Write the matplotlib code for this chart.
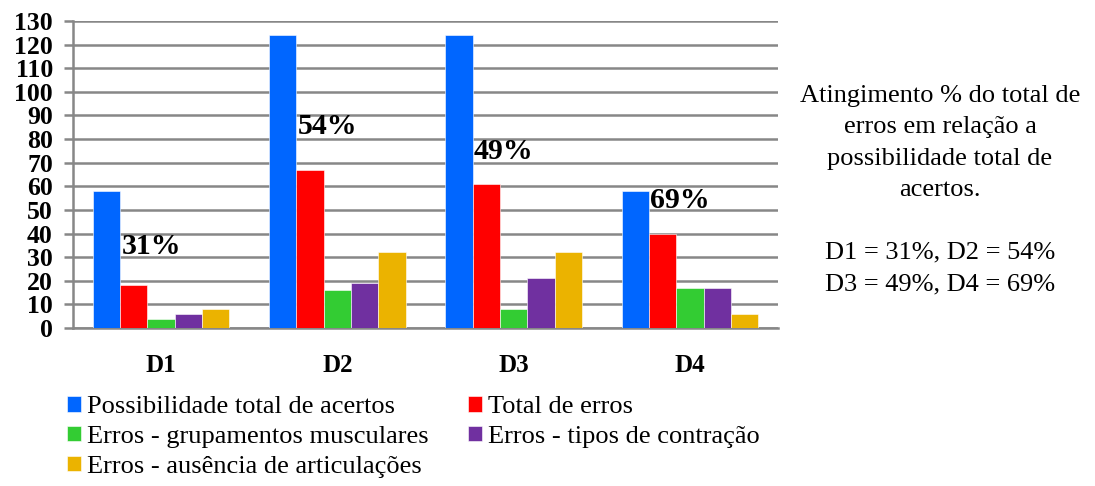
import matplotlib.pyplot as plt
import numpy as np

plt.rcParams['font.family'] = ['Liberation Serif', 'DejaVu Serif']

# Data
categories = ['D1', 'D2', 'D3', 'D4']
possibilidade = [58, 124, 124, 58]
total_erros = [18, 67, 61, 40]
erros_grupamentos = [4, 16, 8, 17]
erros_contracao = [6, 19, 21, 17]
erros_articulacoes = [8, 32, 32, 6]

series_names = ['Possibilidade total de acertos', 'Total de erros',
                'Erros - grupamentos musculares', 'Erros - tipos de contração',
                'Erros - ausência de articulações']
series_colors = ['#0066FF', '#FF0000', '#33CC33', '#7030A0', '#EBB300']

# height (in data units) where each percentage label is centred
pct_label_y = [34.4, 85.3, 74.7, 54.2]

side_text = ('Atingimento % do total de\nerros em relação a\n'
             'possibilidade total de\nacertos.\n\n'
             'D1 = 31%, D2 = 54%\nD3 = 49%, D4 = 69%')

grid_color = '#878787'

fig = plt.figure(figsize=(10.95, 4.86), dpi=100)
ax = fig.add_axes([73 / 1095, 1 - 328 / 486, 705 / 1095, 307 / 486])

x = np.arange(len(categories))
width = 0.155
all_series = [possibilidade, total_erros, erros_grupamentos,
              erros_contracao, erros_articulacoes]
bars = []
for i, (vals, name, col) in enumerate(zip(all_series, series_names, series_colors)):
    b = ax.bar(x + (i - 2) * width, vals, width, color=col, label=name,
               edgecolor='white', linewidth=0.4, zorder=3)
    bars.append(b)

# percentage labels next to the blue bar
for i in range(len(categories)):
    pct = round(total_erros[i] / possibilidade[i] * 100)
    ax.annotate(f'{pct}%', xy=(x[i] - 1.5 * width, pct_label_y[i]),
                xytext=(1, 0), textcoords='offset points',
                ha='left', va='center', fontsize=21.5, fontweight='bold', zorder=4)

ax.set_xlim(-0.5, 3.5)
ax.set_ylim(0, 130)
ax.set_yticks(np.arange(0, 131, 10))
ax.set_xticks(x)
ax.set_xticklabels(categories, fontsize=18, fontweight='bold')
for lbl in ax.get_yticklabels():
    lbl.set_fontweight('bold')
    lbl.set_fontsize(18.5)

ax.yaxis.grid(True, color=grid_color, linewidth=1.8, zorder=0)
ax.set_axisbelow(True)
ax.tick_params(axis='y', direction='out', length=6.5, width=1.8,
               color=grid_color, pad=8)
ax.tick_params(axis='x', length=0, pad=19)
for side in ['top', 'right']:
    ax.spines[side].set_visible(False)
for side in ['left', 'bottom']:
    ax.spines[side].set_color(grid_color)
    ax.spines[side].set_linewidth(1.8)

# legend, row-major order as in the reference
order = [0, 2, 4, 1, 3]
fig.legend([bars[k] for k in order], [series_names[k] for k in order],
           loc='upper left', bbox_to_anchor=(67 / 1095, 1 - 396 / 486),
           ncol=2, frameon=False, fontsize=19, handlelength=0.53,
           handleheight=0.53, handletextpad=0.23, labelspacing=0.29,
           columnspacing=1.5, borderpad=0, borderaxespad=0)

fig.text(940 / 1095, 1 - 190 / 486, side_text, ha='center', va='center',
         fontsize=19, linespacing=1.55)

fig.savefig('out.png', dpi=100)
